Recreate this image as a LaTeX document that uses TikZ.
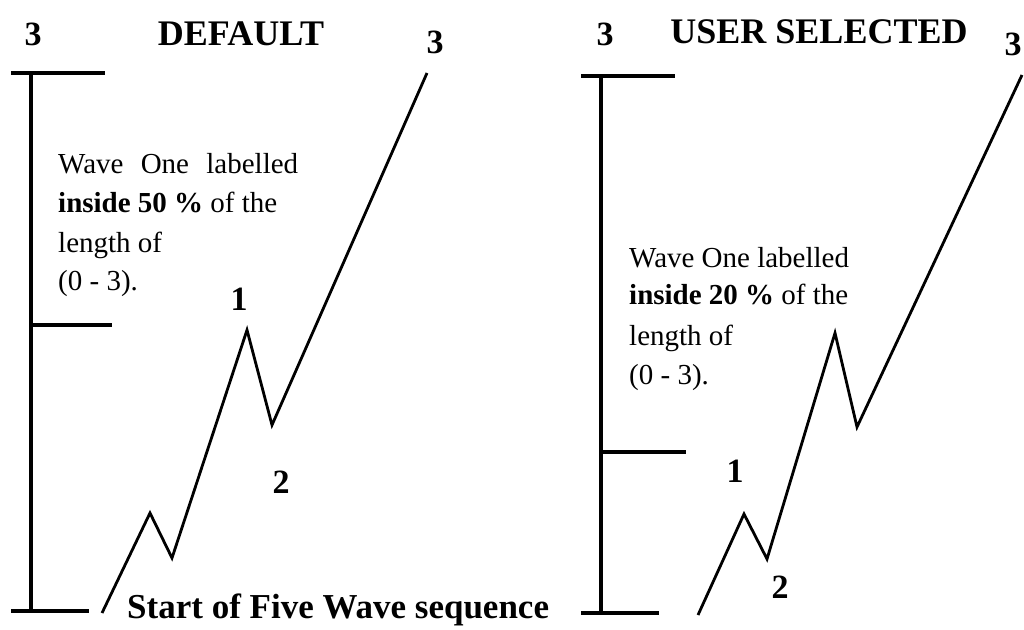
\documentclass[tikz,border=0pt]{standalone}
\usepackage{fontspec}
\setmainfont{Liberation Serif}
\begin{document}
\begin{tikzpicture}[x=1pt,y=-1pt,
  bar/.style={line width=4.5pt},
  wave/.style={line width=2.8pt},
  digit/.style={inner sep=0pt,anchor=base,font=\fontsize{34}{40}\selectfont\bfseries},
  title/.style={inner sep=0pt,anchor=base,font=\fontsize{36}{42}\selectfont\bfseries},
  body/.style={inner sep=0pt,anchor=base west,font=\fontsize{29}{35}\selectfont},
  startlbl/.style={inner sep=0pt,anchor=base west,font=\fontsize{35}{40}\selectfont\bfseries}]
\useasboundingbox[fill=white] (0,0) rectangle (1024,629);

% ---------- left panel (DEFAULT) ----------
\coordinate (LvT) at (31,73);
\coordinate (LvB) at (31,611);
\coordinate (LtA) at (11,73);
\coordinate (LtB) at (105,73);
\coordinate (LmA) at (31,325);
\coordinate (LmB) at (112,325);
\coordinate (LbA) at (11,611);
\coordinate (LbB) at (89,611);
\draw[bar] (LvT) -- (LvB);
\draw[bar] (LtA) -- (LtB);
\draw[bar] (LmA) -- (LmB);
\draw[bar] (LbA) -- (LbB);

\coordinate (Lw0) at (102,613);
\coordinate (Lw1) at (150,513);
\coordinate (Lw2) at (172,558);
\coordinate (Lw3) at (247,330);
\coordinate (Lw4) at (272,425);
\coordinate (Lw5) at (427,73);
\draw[wave] (Lw0) -- (Lw1) -- (Lw2) -- (Lw3) -- (Lw4) -- (Lw5);

\node[digit] (L3a) at (33,45) {3};
\node[title] (Ltitle) at (241,45) {DEFAULT};
\node[digit] (L3b) at (435,53) {3};
\node[digit] (L1) at (239,310) {1};
\node[digit] (L2) at (281,493) {2};

\node[body] (Lt1) at (58,173) {\makebox[240pt][s]{Wave One labelled}};
\node[body] (Lt2) at (58,212) {\textbf{inside 50 \%} of the};
\node[body] (Lt3) at (58,252) {length of};
\node[body] (Lt4) at (58,290) {(0 - 3).};

\node[startlbl] (start) at (127,618) {Start of Five Wave sequence};

% ---------- right panel (USER SELECTED) ----------
\coordinate (RvT) at (601,76);
\coordinate (RvB) at (601,613);
\coordinate (RtA) at (581,76);
\coordinate (RtB) at (675,76);
\coordinate (RmA) at (601,452);
\coordinate (RmB) at (686,452);
\coordinate (RbA) at (581,613);
\coordinate (RbB) at (659,613);
\draw[bar] (RvT) -- (RvB);
\draw[bar] (RtA) -- (RtB);
\draw[bar] (RmA) -- (RmB);
\draw[bar] (RbA) -- (RbB);

\coordinate (Rw0) at (698,615);
\coordinate (Rw1) at (744,514);
\coordinate (Rw2) at (767,559);
\coordinate (Rw3) at (835,333);
\coordinate (Rw4) at (857,427);
\coordinate (Rw5) at (1022,75);
\draw[wave] (Rw0) -- (Rw1) -- (Rw2) -- (Rw3) -- (Rw4) -- (Rw5);

\node[digit] (R3a) at (605,45) {3};
\node[title] (Rtitle) at (819,43) {USER SELECTED};
\node[digit] (R3b) at (1013,55) {3};
\node[digit] (R1) at (735,482) {1};
\node[digit] (R2) at (780,598) {2};

\node[body] (Rt1) at (629,267) {Wave One labelled};
\node[body] (Rt2) at (629,304) {\textbf{inside 20 \%} of the};
\node[body] (Rt3) at (629,345) {length of};
\node[body] (Rt4) at (629,384) {(0 - 3).};
\end{tikzpicture}
\end{document}
